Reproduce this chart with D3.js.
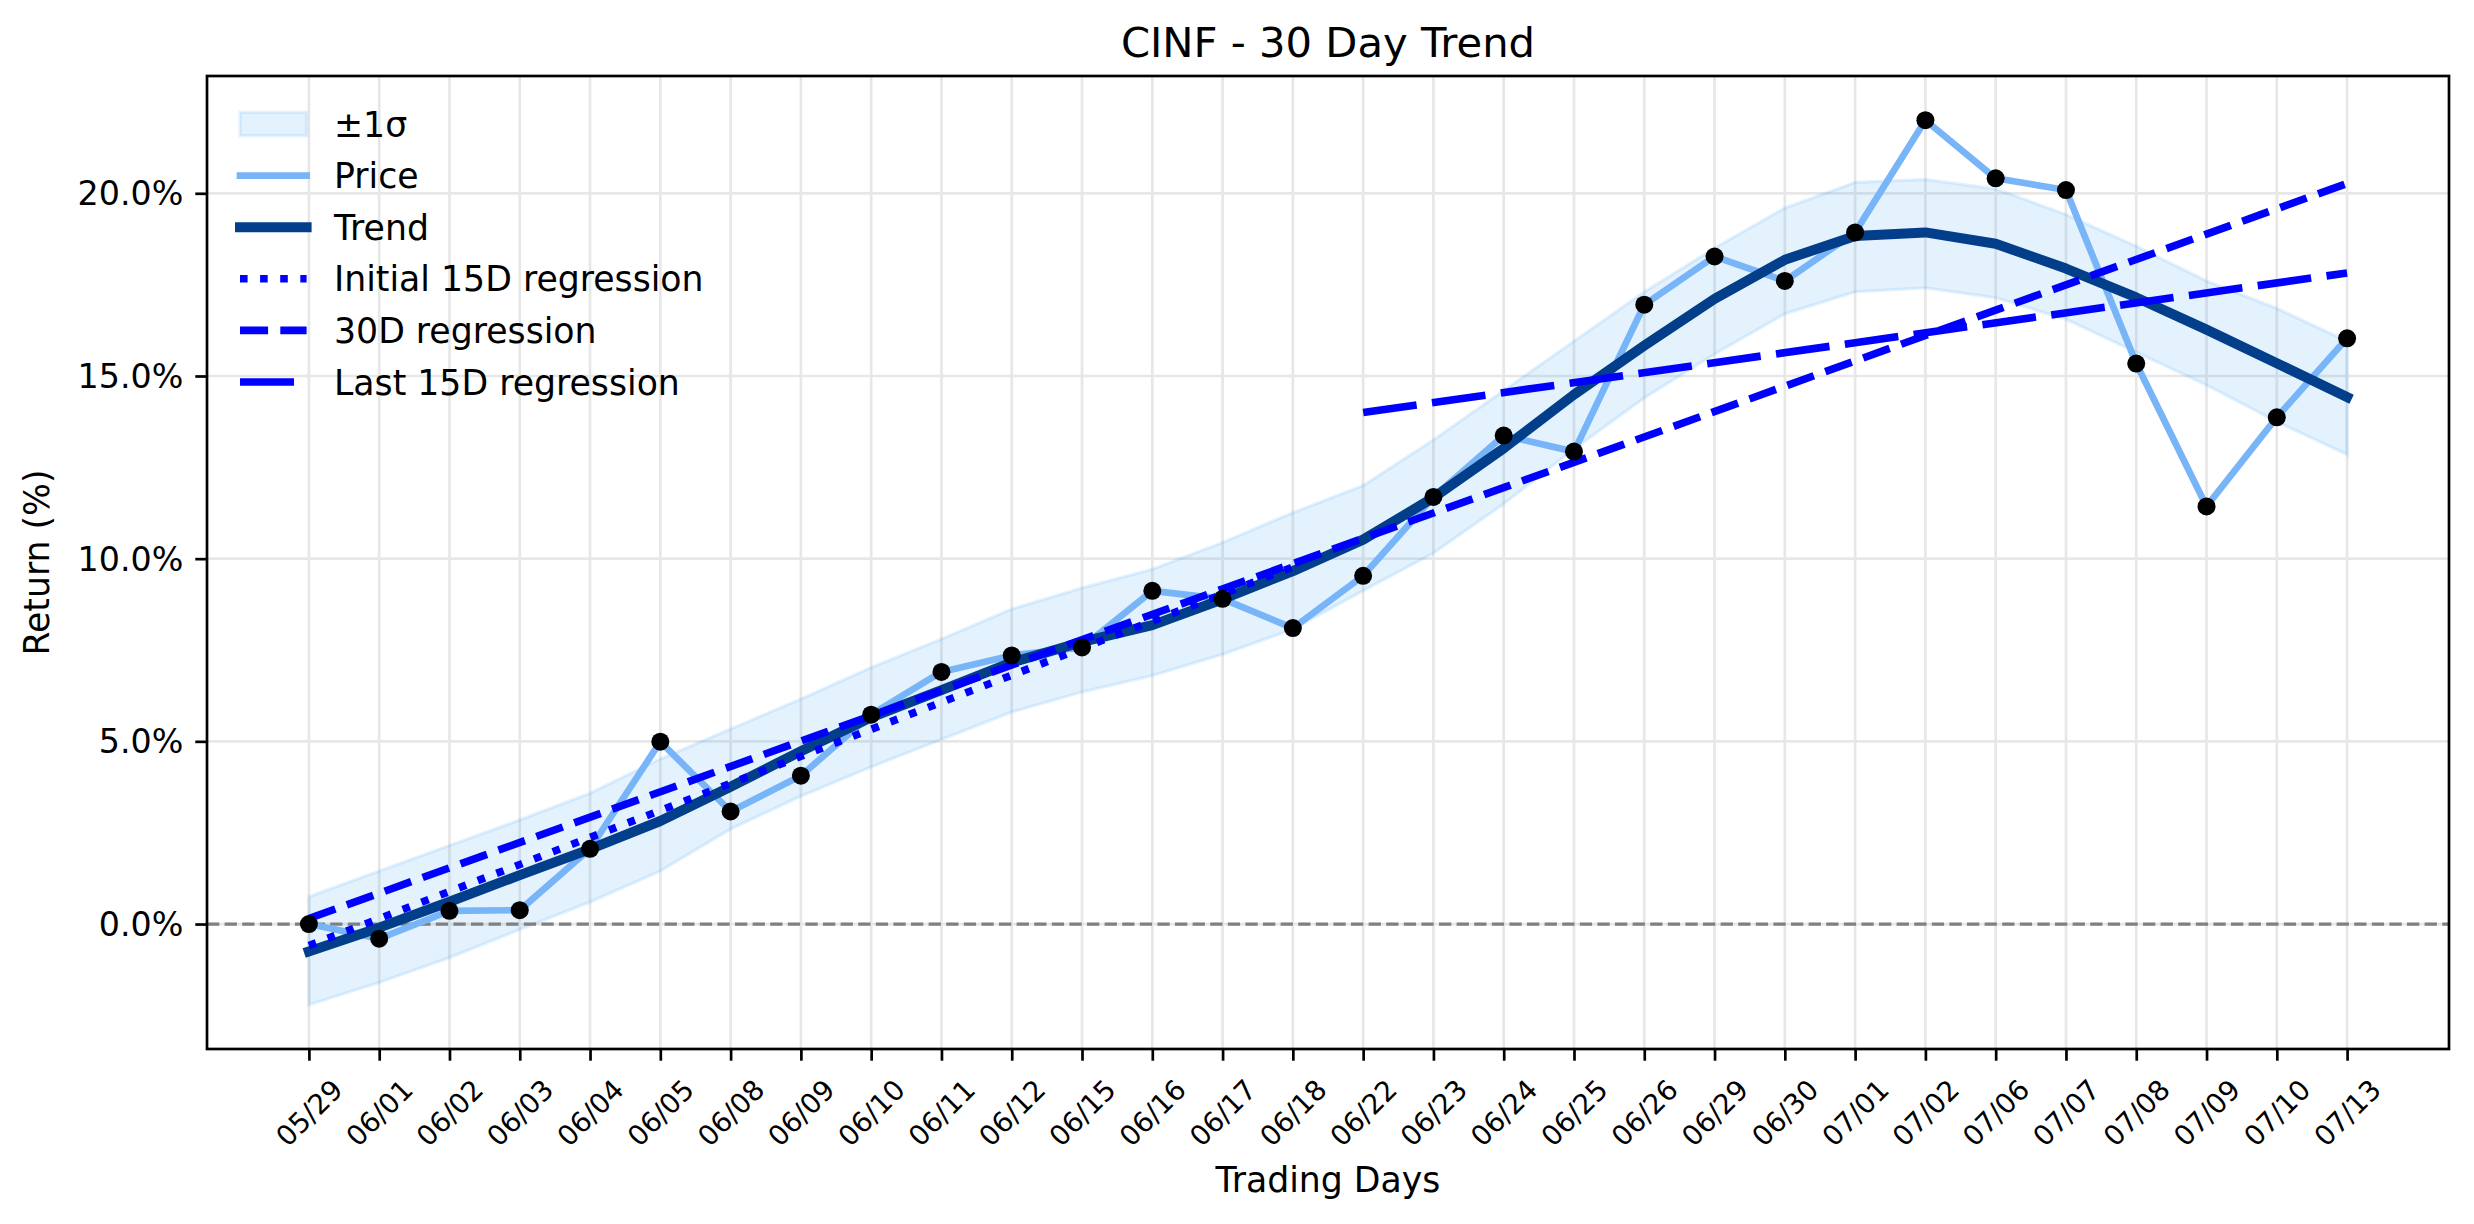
<!DOCTYPE html>
<html><head><meta charset="utf-8">
<script src="https://cdn.jsdelivr.net/npm/d3@7"></script>
<style>
body{margin:0;background:#fff}
svg{display:block}
text{font-family:"DejaVu Sans",sans-serif;fill:#000}
</style>
</head><body>
<svg id="chart" width="2474" height="1224"></svg>
<script>
// ---------- data ----------
const dates = ["05/29","06/01","06/02","06/03","06/04","06/05","06/08","06/09","06/10","06/11","06/12","06/15","06/16","06/17","06/18","06/22","06/23","06/24","06/25","06/26","06/29","06/30","07/01","07/02","07/06","07/07","07/08","07/09","07/10","07/13"];
const price = [0.00,-0.40,0.36,0.38,2.06,4.99,3.08,4.06,5.73,6.90,7.35,7.57,9.12,8.90,8.10,9.53,11.69,13.37,12.93,16.95,18.27,17.60,18.93,22.00,20.41,20.09,15.34,11.43,13.87,16.03];
const trend = [-0.75,-0.10,0.61,1.34,2.05,2.82,3.76,4.73,5.66,6.40,7.16,7.72,8.18,8.89,9.66,10.52,11.67,13.02,14.49,15.83,17.11,18.18,18.83,18.93,18.62,17.94,17.15,16.27,15.35,14.42];
const bandUpper = [0.75,1.45,2.15,2.85,3.58,4.52,5.34,6.16,7.02,7.80,8.62,9.20,9.71,10.44,11.26,12.00,13.25,14.60,15.95,17.30,18.50,19.60,20.30,20.38,20.12,19.42,18.55,17.60,16.85,15.95];
const bandLower = [-2.21,-1.60,-0.92,-0.15,0.60,1.45,2.60,3.50,4.30,5.05,5.80,6.35,6.80,7.38,8.07,9.12,10.15,11.50,13.00,14.40,15.60,16.70,17.30,17.41,17.14,16.55,15.65,14.75,13.75,12.85];
const regInitialX = [0,14], regInitialY = [-0.59, 9.77];
const reg30X = [0,29], reg30Y = [0.15, 20.27];
const regLastX = [15,29], regLastY = [14.00, 17.82];
const yTicks = [0,5,10,15,20];
const legendLabels = ["\u00b11\u03c3","Price","Trend","Initial 15D regression","30D regression","Last 15D regression"];

// ---------- layout ----------
const L=207, R=2449, T=76, B=1049;
const svg = d3.select("#chart");
const n = dates.length;
const x = d3.scaleLinear().domain([-0.05*(n-1), (n-1)*1.05]).range([L,R]);
const lo = d3.min(bandLower.concat(price)), hi = d3.max(bandUpper.concat(price));
const pad = (hi-lo)*0.05;
const y = d3.scaleLinear().domain([lo-pad, hi+pad]).range([B,T]);

const C = {price:"#78b4f8", trend:"#023e8a", reg:"#0000ff", band:"#2196f3", grid:"#e7e7e7"};
const LW = {price:6.7, trend:10, reg:7.6};
const DASH = {dot:"7.6,12.5", dash:"28.1,12.2", long:"54,15.5"};
const FS = {title:"41.7px", label:"34.7px", legend:"34.7px", ytick:"33.3px", xtick:"27.8px"};

// grid
const g = svg.append("g");
g.selectAll(".vg").data(d3.range(n)).join("line")
  .attr("x1",i=>x(i)).attr("x2",i=>x(i)).attr("y1",T).attr("y2",B)
  .attr("stroke",C.grid).attr("stroke-width",2.7);
g.selectAll(".hg").data(yTicks).join("line")
  .attr("x1",L).attr("x2",R).attr("y1",d=>y(d)).attr("y2",d=>y(d))
  .attr("stroke",C.grid).attr("stroke-width",2.7);

// band
const area = d3.area().x((d,i)=>x(i)).y0((d,i)=>y(bandLower[i])).y1((d,i)=>y(bandUpper[i]));
svg.append("path").datum(trend).attr("d",area)
  .attr("fill",C.band).attr("fill-opacity",0.12)
  .attr("stroke",C.band).attr("stroke-opacity",0.12).attr("stroke-width",3.3);

// zero line
svg.append("line").attr("x1",L).attr("x2",R).attr("y1",y(0)).attr("y2",y(0))
  .attr("stroke","#808080").attr("stroke-width",3.3).attr("stroke-dasharray","12.3,5.3");

const line = d3.line().x((d,i)=>x(i)).y(d=>y(d));
svg.append("path").datum(price).attr("d",line).attr("fill","none")
  .attr("stroke",C.price).attr("stroke-width",LW.price).attr("stroke-linejoin","round").attr("stroke-linecap","square");
svg.append("path").datum(trend).attr("d",line).attr("fill","none")
  .attr("stroke",C.trend).attr("stroke-width",LW.trend).attr("stroke-linejoin","round").attr("stroke-linecap","square");

function reg(xs, ys, dash){
  svg.append("line").attr("x1",x(xs[0])).attr("x2",x(xs[1])).attr("y1",y(ys[0])).attr("y2",y(ys[1]))
    .attr("stroke",C.reg).attr("stroke-width",LW.reg).attr("stroke-dasharray",dash).attr("stroke-linecap","butt");
}
reg(regInitialX, regInitialY, DASH.dot);
reg(reg30X, reg30Y, DASH.dash);
reg(regLastX, regLastY, DASH.long);

svg.selectAll(".pt").data(price).join("circle")
  .attr("cx",(d,i)=>x(i)).attr("cy",d=>y(d)).attr("r",9).attr("fill","#000");

// spines
svg.append("rect").attr("x",L).attr("y",T).attr("width",R-L).attr("height",B-T)
  .attr("fill","none").attr("stroke","#000").attr("stroke-width",2.7);

// axes
const xAxis = svg.append("g").attr("transform",`translate(0,${B})`)
  .call(d3.axisBottom(x).tickValues(d3.range(n)).tickFormat(i=>dates[i]).tickSize(11.7).tickSizeOuter(0));
xAxis.select(".domain").remove();
xAxis.selectAll(".tick line").attr("stroke","#000").attr("stroke-width",2.7);
xAxis.selectAll(".tick text")
  .attr("y",0).attr("dy",null)
  .attr("transform","translate(0,64) rotate(-45)")
  .attr("text-anchor","middle").attr("dominant-baseline","central")
  .style("font-size",FS.xtick).style("font-family","DejaVu Sans");

const yAxis = svg.append("g").attr("transform",`translate(${L},0)`)
  .call(d3.axisLeft(y).tickValues(yTicks).tickFormat(d=>d.toFixed(1)+"%").tickSize(11.7).tickPadding(12).tickSizeOuter(0));
yAxis.select(".domain").remove();
yAxis.selectAll(".tick line").attr("stroke","#000").attr("stroke-width",2.7);
yAxis.selectAll(".tick text").attr("dy",null).attr("dominant-baseline","central")
  .style("font-size",FS.ytick).style("font-family","DejaVu Sans");

// labels
svg.append("text").attr("x",(L+R)/2).attr("y",57).attr("text-anchor","middle")
  .style("font-size",FS.title).text("CINF - 30 Day Trend");
svg.append("text").attr("x",(L+R)/2).attr("y",1192).attr("text-anchor","middle")
  .style("font-size",FS.label).text("Trading Days");
svg.append("text").attr("transform",`translate(49,${(T+B)/2}) rotate(-90)`).attr("text-anchor","middle")
  .style("font-size",FS.label).text("Return (%)");

// legend
const lg = svg.append("g");
const rowY = k => 124 + 51.6*k;
const hx1 = 240, hx2 = 306.6;
lg.append("rect").attr("x",hx1).attr("y",rowY(0)-11.65).attr("width",hx2-hx1).attr("height",23.3)
  .attr("fill",C.band).attr("fill-opacity",0.12).attr("stroke",C.band).attr("stroke-opacity",0.12).attr("stroke-width",3.3);
const legLines = [
  {k:1, c:C.price, w:LW.price, dash:null, cap:"square"},
  {k:2, c:C.trend, w:LW.trend, dash:null, cap:"square"},
  {k:3, c:C.reg, w:LW.reg, dash:DASH.dot, cap:"butt"},
  {k:4, c:C.reg, w:LW.reg, dash:DASH.dash, cap:"butt"},
  {k:5, c:C.reg, w:LW.reg, dash:DASH.long, cap:"butt"}
];
legLines.forEach(o=>{
  lg.append("line").attr("x1",hx1).attr("x2",hx2).attr("y1",rowY(o.k)).attr("y2",rowY(o.k))
    .attr("stroke",o.c).attr("stroke-width",o.w).attr("stroke-linecap",o.cap)
    .attr("stroke-dasharray",o.dash);
});
legendLabels.forEach((t,k)=>{
  lg.append("text").attr("x",334).attr("y",rowY(k)+12.5).style("font-size",FS.legend).text(t);
});
</script>
</body></html>
